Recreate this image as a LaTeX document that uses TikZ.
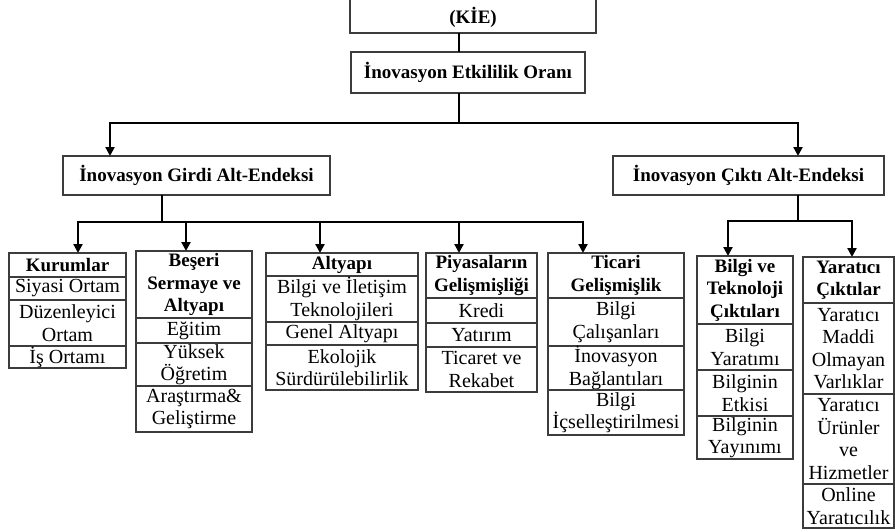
\documentclass[tikz,border=0pt]{standalone}
\usepackage{fontspec}
\setmainfont{Liberation Serif}
\usetikzlibrary{arrows.meta}
\definecolor{boxgray}{HTML}{3C3C3C}
\begin{document}
\begin{tikzpicture}[x=1pt,y=-1pt,
  cellst/.style={draw=boxgray,line width=1.4pt,inner sep=0pt,outer sep=0pt,align=center,anchor=north west,font=\fontsize{20}{22.5}\selectfont},
  hd/.style={cellst,font=\fontsize{19}{22.5}\selectfont\bfseries},
  conn/.style={line width=2.2pt,black},
  arr/.style={conn,-{Triangle[length=9pt,width=9pt]}}]
\useasboundingbox (0,0) rectangle (895,531);
\clip (0,0) rectangle (895,531);

% top levels
\node[hd,anchor=south west,minimum width=246pt,minimum height=80pt] (kie) at (350,33) {};
\node[font=\fontsize{19}{22.5}\selectfont\bfseries,inner sep=0pt] (kielbl) at (473,17) {(KİE)};
\node[hd,minimum width=234pt,minimum height=41pt] (eto) at (351,52) {İnovasyon Etkililik Oranı};
\node[hd,minimum width=267pt,minimum height=39pt] (girdi) at (63,156) {İnovasyon Girdi Alt-Endeksi};
\node[hd,minimum width=271pt,minimum height=39pt] (cikti) at (613,156) {İnovasyon Çıktı Alt-Endeksi};

% Kurumlar column
\node[hd,minimum width=117pt,minimum height=24pt] (k0) at (9,253) {Kurumlar};
\node[cellst,minimum width=117pt,minimum height=23pt] (k1) at (9,277) {Siyasi Ortam};
\node[cellst,minimum width=117pt,minimum height=46pt] (k2) at (9,300) {Düzenleyici\\Ortam};
\node[cellst,minimum width=117pt,minimum height=22pt] (k3) at (9,346) {İş Ortamı};

% Beseri column
\node[hd,minimum width=116pt,minimum height=67pt] (b0) at (136,251) {Beşeri\\Sermaye ve\\Altyapı};
\node[cellst,minimum width=116pt,minimum height=25pt] (b1) at (136,318) {Eğitim};
\node[cellst,minimum width=116pt,minimum height=43pt] (b2) at (136,343) {Yüksek\\Öğretim};
\node[cellst,minimum width=116pt,minimum height=46pt] (b3) at (136,386) {Araştırma\&\\Geliştirme};

% Altyapi column
\node[hd,minimum width=152pt,minimum height=23pt] (a0) at (266,253) {Altyapı};
\node[cellst,minimum width=152pt,minimum height=46pt] (a1) at (266,276) {Bilgi ve İletişim\\Teknolojileri};
\node[cellst,minimum width=152pt,minimum height=23pt] (a2) at (266,322) {Genel Altyapı};
\node[cellst,minimum width=152pt,minimum height=45pt] (a3) at (266,345) {Ekolojik\\Sürdürülebilirlik};

% Piyasa column
\node[hd,minimum width=111pt,minimum height=45pt] (p0) at (426,253) {Piyasaların\\Gelişmişliği};
\node[cellst,minimum width=111pt,minimum height=25pt] (p1) at (426,298) {Kredi};
\node[cellst,minimum width=111pt,minimum height=24pt] (p2) at (426,323) {Yatırım};
\node[cellst,minimum width=111pt,minimum height=45pt] (p3) at (426,347) {Ticaret ve\\Rekabet};

% Ticari column
\node[hd,minimum width=136pt,minimum height=45pt] (t0) at (548,253) {Ticari\\Gelişmişlik};
\node[cellst,minimum width=136pt,minimum height=48pt] (t1) at (548,298) {Bilgi\\Çalışanları};
\node[cellst,minimum width=136pt,minimum height=44pt] (t2) at (548,346) {İnovasyon\\Bağlantıları};
\node[cellst,minimum width=136pt,minimum height=45pt] (t3) at (548,390) {Bilgi\\İçselleştirilmesi};

% Bilgi ve Teknoloji column
\node[hd,minimum width=96pt,minimum height=68pt] (bt0) at (697,256) {Bilgi ve\\Teknoloji\\Çıktıları};
\node[cellst,minimum width=96pt,minimum height=46pt] (bt1) at (697,324) {Bilgi\\Yaratımı};
\node[cellst,minimum width=96pt,minimum height=46pt] (bt2) at (697,370) {Bilginin\\Etkisi};
\node[cellst,minimum width=96pt,minimum height=43pt] (bt3) at (697,416) {Bilginin\\Yayınımı};

% Yaratici column
\node[hd,minimum width=91pt,minimum height=46pt] (y0) at (803,257) {Yaratıcı\\Çıktılar};
\node[cellst,minimum width=91pt,minimum height=91pt] (y1) at (803,303) {Yaratıcı\\Maddi\\Olmayan\\Varlıklar};
\node[cellst,minimum width=91pt,minimum height=90pt] (y2) at (803,394) {Yaratıcı\\Ürünler\\ve\\Hizmetler};
\node[cellst,minimum width=91pt,minimum height=44pt] (y3) at (803,484) {Online\\Yaratıcılık};

% connector coordinates
\coordinate (j1) at (459,123);
\coordinate (xg) at (110,0);
\coordinate (xc) at (798,0);
\coordinate (j2) at (162,222);
\coordinate (xk) at (78,0);
\coordinate (xb) at (186,0);
\coordinate (xa) at (320,0);
\coordinate (xp) at (459,0);
\coordinate (xt) at (583,0);
\coordinate (j3) at (798,221);
\coordinate (xbt) at (728,0);
\coordinate (xy) at (852,0);

% connectors
\draw[conn] (kie.south -| j1) -- (eto.north -| j1);
\draw[conn] (eto.south -| j1) -- (j1);
\draw[arr] (j1) -| (girdi.north -| xg);
\draw[arr] (j1) -| (cikti.north -| xc);

\draw[conn] (girdi.south -| j2) -- (j2);
\draw[arr] (j2) -| (k0.north -| xk);
\draw[arr] (j2) -| (b0.north -| xb);
\draw[arr] (j2) -| (a0.north -| xa);
\draw[arr] (j2) -| (p0.north -| xp);
\draw[arr] (j2) -| (t0.north -| xt);

\draw[conn] (cikti.south -| j3) -- (j3);
\draw[arr] (j3) -| (bt0.north -| xbt);
\draw[arr] (j3) -| (y0.north -| xy);
\end{tikzpicture}
\end{document}
